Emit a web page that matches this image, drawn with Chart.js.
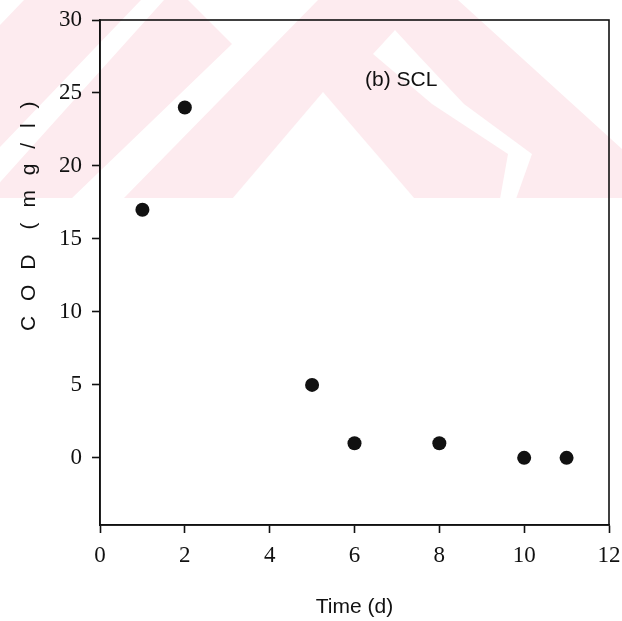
<!DOCTYPE html>
<html lang="en">
<head>
<meta charset="UTF-8" />
<title>COD - SCL</title>
<script src="https://cdn.jsdelivr.net/npm/chart.js@4.4.1/dist/chart.umd.min.js"></script>
<style>
  html, body { margin: 0; padding: 0; background: #fff; }
  canvas { display: block; }
</style>
</head>
<body>
<canvas id="codChart" width="622" height="621"></canvas>
<script>
// sampling days and measured COD (mg/l)
const days = [1, 2, 5, 6, 8, 10, 11];
const cod = [17, 24, 5, 1, 1, 0, 0];

const xTicks = [0, 2, 4, 6, 8, 10, 12];
const yTicks = [0, 5, 10, 15, 20, 25, 30];

const panelLabel = '(b) SCL';
const panelPos = { x: 7.1, y: 25.9 };

// faint page stamp in the top band (canvas px)
const stampPink = [
  [[24, 0], [141, 0], [-50, 199], [-167, 199]],
  [[164, 0], [188, 0], [232, 44], [71, 199], [-15, 199]],
  [[318, 0], [458, 0], [677, 199], [123, 199]]
];
const stampWhite = [
  [[323, 92], [232, 199], [415, 199]],
  [[395, 30], [417, 54], [464, 104], [532, 154], [516, 199], [500, 199], [508, 154], [432, 104], [373, 54]]
];

const ink = '#111';
const serif = "'Liberation Serif', 'DejaVu Serif', serif";
const sans = "'Liberation Sans', Arial, sans-serif";

const stamp = {
  id: 'stamp',
  beforeDraw(chart) {
    const ctx = chart.ctx;
    ctx.save();
    ctx.beginPath();
    ctx.rect(0, 0, chart.width, 198);
    ctx.clip();
    const fill = (polys, color) => {
      ctx.fillStyle = color;
      polys.forEach(p => {
        ctx.beginPath();
        p.forEach(([x, y], i) => i ? ctx.lineTo(x, y) : ctx.moveTo(x, y));
        ctx.closePath();
        ctx.fill();
      });
    };
    fill(stampPink, '#fdebef');
    fill(stampWhite, '#ffffff');
    ctx.restore();
  }
};

const frame = {
  id: 'frame',
  afterDraw(chart) {
    const { ctx, chartArea: a, scales } = chart;
    ctx.save();
    ctx.strokeStyle = ink;
    ctx.lineWidth = 1.6;
    ctx.strokeRect(a.left, a.top, a.right - a.left, a.bottom - a.top);

    // y axis title, letter spaced
    ctx.fillStyle = ink;
    ctx.font = '21px ' + sans;
    ctx.letterSpacing = '4.5px';
    ctx.textAlign = 'center';
    ctx.textBaseline = 'middle';
    ctx.translate(29, 214);
    ctx.rotate(-Math.PI / 2);
    ctx.fillText('C O D  ( m g / l )', 0, 0);
    ctx.restore();

    ctx.save();
    ctx.fillStyle = ink;
    ctx.font = '21px ' + sans;
    ctx.textAlign = 'center';
    ctx.textBaseline = 'middle';
    ctx.fillText(panelLabel, scales.x.getPixelForValue(panelPos.x), scales.y.getPixelForValue(panelPos.y));
    ctx.restore();
  }
};

new Chart(document.getElementById('codChart'), {
  type: 'scatter',
  data: {
    datasets: [
      {
        data: days.map((d, i) => ({ x: d, y: cod[i] })),
        pointRadius: 7,
        pointHoverRadius: 7,
        backgroundColor: ink,
        borderColor: ink,
        borderWidth: 0
      },
      {
        // small light centre seen on the printed dots
        data: days.map((d, i) => ({ x: d, y: cod[i] })),
        pointRadius: 0.8,
        pointHoverRadius: 0.8,
        backgroundColor: '#ddd',
        borderWidth: 0
      }
    ]
  },
  options: {
    responsive: false,
    animation: false,
    layout: { padding: { top: 20, right: 13, bottom: 0, left: 0 } },
    plugins: { legend: { display: false }, tooltip: { enabled: false } },
    scales: {
      x: {
        type: 'linear',
        min: 0,
        max: 12,
        afterBuildTicks: s => { s.ticks = xTicks.map(v => ({ value: v })); },
        afterFit: s => { s.height = 96; s.paddingLeft = 0; s.paddingRight = 0; },
        ticks: { color: ink, font: { family: serif, size: 23 }, padding: 9, maxRotation: 0, autoSkip: false },
        grid: { drawOnChartArea: false, drawTicks: true, tickLength: 8, tickColor: ink, tickWidth: 1.6 },
        border: { color: ink, width: 1.6 },
        title: { display: true, text: 'Time (d)', color: ink, font: { family: sans, size: 21 }, padding: { top: 0, bottom: 1 } }
      },
      y: {
        type: 'linear',
        min: -4.6,
        max: 30,
        afterBuildTicks: s => { s.ticks = yTicks.map(v => ({ value: v })); },
        afterFit: s => { s.width = 100; s.paddingTop = 0; s.paddingBottom = 0; },
        ticks: { color: ink, font: { family: serif, size: 23 }, padding: 10 },
        grid: { drawOnChartArea: false, drawTicks: true, tickLength: 8, tickColor: ink, tickWidth: 1.6 },
        border: { color: ink, width: 1.6 }
      }
    }
  },
  plugins: [stamp, frame]
});
</script>
</body>
</html>
